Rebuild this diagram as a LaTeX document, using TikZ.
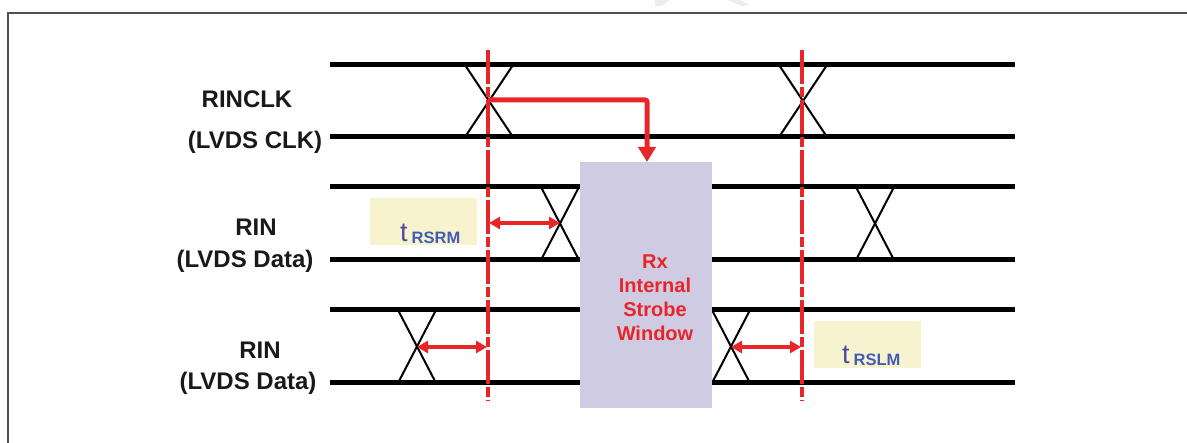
\documentclass[tikz,border=0pt]{standalone}
\usepackage{fontspec}
\setmainfont{Liberation Sans}
\usetikzlibrary{arrows.meta}
\definecolor{rred}{HTML}{E8262A}
\definecolor{wpurple}{HTML}{CECBE3}
\definecolor{tyellow}{HTML}{F8F3CF}
\definecolor{tdark}{HTML}{4B4A9C}
\definecolor{tblue}{HTML}{3F5DB8}
\definecolor{framegray}{HTML}{505050}
\begin{document}
\begin{tikzpicture}[x=1pt,y=-1pt,
  sig/.style={line width=5pt},
  xing/.style={line width=2pt},
  strobe/.style={rred, line width=3.2pt, dash pattern=on 34pt off 3pt on 10pt off 3pt},
  meas/.style={rred, line width=4pt, {Triangle[length=11pt,width=12pt]}-{Triangle[length=11pt,width=12pt]}},
  lbl/.style={font=\fontsize{24}{28}\selectfont\bfseries, text=black!90, inner sep=0},
  ybox/.style={fill=tyellow, minimum width=107pt, minimum height=47pt, inner sep=0, anchor=north west},
  tlabel/.style={inner sep=0, anchor=base west, font=\fontsize{27}{27}\selectfont, text=tdark},
  winbox/.style={fill=wpurple, minimum width=132pt, minimum height=246pt, inner sep=0, anchor=north west}]
\useasboundingbox (0,0) rectangle (1187,443);
% faint watermark remnants
\fill[black!7] (655,0) -- (664,0) -- (670,0) -- (662,6) -- (655,6) -- cycle;
\fill[black!7] (727,0) -- (740,0) -- (750,5) -- (742,6) -- cycle;
% frame
\draw[framegray, line width=2pt] (8,443) -- (8,13) -- (1187,13);
% labels
\node[lbl] (clk1) at (247,99) {RINCLK};
\node[lbl] (clk2) at (255,142) {(LVDS CLK)};
\node[lbl] (rin1a) at (256,227) {RIN};
\node[lbl] (rin1b) at (245,261) {(LVDS Data)};
\node[lbl] (rin2a) at (260,350) {RIN};
\node[lbl] (rin2b) at (248,383) {(LVDS Data)};
% signal lines
\foreach \yy in {65,137,187,260,310,383}
  \draw[sig] (330,\yy) -- (1015,\yy);
% crossings
\foreach \cx/\ya/\yb/\hw in {489/65/137/24, 803/65/137/24, 560/187/260/19, 875/187/260/19, 417/310/383/19, 731/310/383/19}
  \draw[xing] ({\cx-\hw},\ya) -- ({\cx+\hw},\yb) ({\cx+\hw},\ya) -- ({\cx-\hw},\yb);
% strobe window
\node[winbox] (win) at (580,162) {};
\node[font=\fontsize{20}{24}\selectfont\bfseries, text=rred, align=center, inner sep=0] (wintext) at (655,298) {Rx\\Internal\\Strobe\\Window};
% yellow boxes
\node[ybox] (ysrm) at (370,198) {};
\node[tlabel] (tsrm) at (400,242) {t\hspace{4pt}\raisebox{-1.5pt}{\fontsize{16.5}{16.5}\selectfont\bfseries\color{tblue}RSRM}};
\node[ybox] (yslm) at (814,321) {};
\node[tlabel] (tslm) at (842,364) {t\hspace{4pt}\raisebox{-1.5pt}{\fontsize{16.5}{16.5}\selectfont\bfseries\color{tblue}RSLM}};
% strobe lines
\coordinate (s1t) at (488,50);
\coordinate (s1b) at (488,401);
\coordinate (s2t) at (802,50);
\coordinate (s2b) at (802,401);
\draw[strobe] (s1t) -- (s1b);
\draw[strobe] (s2t) -- (s2b);
% clock to window arrow
\coordinate (clkx) at (488,100);
\coordinate (winin) at (647,162);
\draw[rred, line width=5pt, rounded corners=2pt, -{Triangle[length=15pt,width=17pt]}] (clkx) -| (winin);
% measurement arrows
\coordinate (m1a) at (489,223);
\coordinate (m1b) at (560,223);
\coordinate (m2a) at (417,347);
\coordinate (m2b) at (487,347);
\coordinate (m3a) at (731,347);
\coordinate (m3b) at (801,347);
\draw[meas] (m1a) -- (m1b);
\draw[meas] (m2a) -- (m2b);
\draw[meas] (m3a) -- (m3b);
\end{tikzpicture}
\end{document}
